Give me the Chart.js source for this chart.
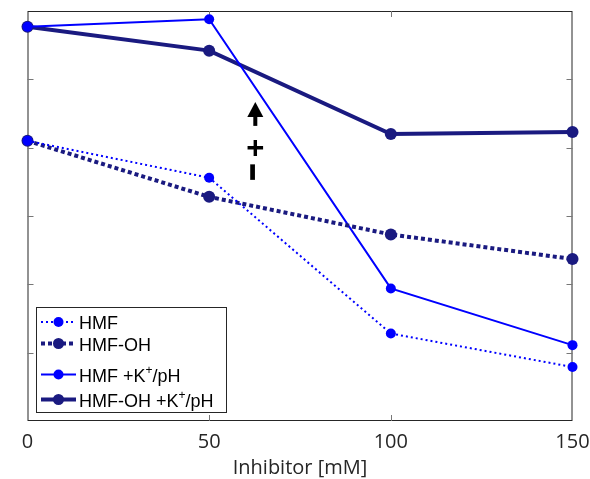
<!DOCTYPE html>
<html>
<head>
<meta charset="utf-8">
<script src="https://cdn.jsdelivr.net/npm/chart.js@4.4.1/dist/chart.umd.min.js"></script>
<style>
  html, body { margin: 0; padding: 0; background: #fff; overflow: hidden; }
  #wrap { width: 590px; height: 479px; }
  canvas { display: block; }
</style>
</head>
<body>
<div id="wrap"><canvas id="chart"></canvas></div>
<script>
// inhibitor concentrations (mM)
const inhibitor = [0, 50, 100, 150];
const xTicks = [0, 50, 100, 150];

// relative values (axis has no labels, 0..6 units)
const hmf = [4.10, 3.56, 1.28, 0.79];
const hmfOH = [4.10, 3.28, 2.73, 2.37];
const hmfK = [5.77, 5.88, 1.94, 1.11];
const hmfOHK = [5.77, 5.42, 4.20, 4.23];

const BLUE = '#0000ff';
const NAVY = '#1a1a80';
const AXIS = '#262626';

const toXY = (vals) => vals.map((v, i) => ({x: inhibitor[i], y: v}));

const legendRows = [
  {name: 'HMF', sup: null, color: BLUE, width: 2, dash: [2, 3], r: 5},
  {name: 'HMF-OH', sup: null, color: NAVY, width: 4, dash: [4, 3], r: 5.5},
  {name: 'HMF +K', sup: '+', tail: '/pH', color: BLUE, width: 2, dash: [], r: 5},
  {name: 'HMF-OH +K', sup: '+', tail: '/pH', color: NAVY, width: 4, dash: [], r: 5.5},
];

// frame with inward ticks, drawn under the lines
const framePlugin = {
  id: 'frame',
  beforeDatasetsDraw(chart) {
    const {ctx, chartArea: a, scales} = chart;
    ctx.save();
    ctx.strokeStyle = AXIS;
    ctx.lineWidth = 1;
    ctx.strokeRect(a.left + 0.5, a.top + 0.5, a.right - a.left - 1, a.bottom - a.top - 1);
    ctx.strokeStyle = '#777';
    ctx.beginPath();
    [50, 100].forEach((v) => {
      const x = Math.round(scales.x.getPixelForValue(v)) + 0.5;
      ctx.moveTo(x, a.bottom); ctx.lineTo(x, a.bottom - 6);
      ctx.moveTo(x, a.top); ctx.lineTo(x, a.top + 6);
    });
    [1, 2, 3, 4, 5].forEach((v) => {
      const y = Math.round(scales.y.getPixelForValue(v)) + 0.5;
      ctx.moveTo(a.left, y); ctx.lineTo(a.left + 6, y);
      ctx.moveTo(a.right, y); ctx.lineTo(a.right - 6, y);
    });
    ctx.stroke();
    ctx.restore();
  },
};

// legend box (with superscripts) and the arrow / +/- note
const notesPlugin = {
  id: 'notes',
  afterDatasetsDraw(chart) {
    const {ctx, scales} = chart;
    ctx.save();

    // legend
    const bx = 36.5, by = 307.5, bw = 190, bh = 105;
    ctx.fillStyle = '#fff';
    ctx.fillRect(bx, by, bw, bh);
    ctx.strokeStyle = AXIS;
    ctx.lineWidth = 1;
    ctx.strokeRect(bx, by, bw, bh);
    const baselines = [329, 350.5, 381.5, 406.5];
    legendRows.forEach((row, i) => {
      const base = baselines[i];
      const ly = base - 7;
      ctx.strokeStyle = row.color;
      ctx.lineWidth = row.width;
      ctx.setLineDash(row.dash);
      ctx.beginPath();
      ctx.moveTo(41, ly); ctx.lineTo(76, ly);
      ctx.stroke();
      ctx.setLineDash([]);
      ctx.fillStyle = row.color;
      ctx.beginPath();
      ctx.arc(58.5, ly, row.r, 0, Math.PI * 2);
      ctx.fill();

      ctx.fillStyle = '#000';
      ctx.textBaseline = 'alphabetic';
      ctx.font = '18px "Liberation Sans", Arial, sans-serif';
      let tx = 79;
      ctx.fillText(row.name, tx, base);
      if (row.sup) {
        tx += ctx.measureText(row.name).width;
        ctx.font = '12px "Liberation Sans", Arial, sans-serif';
        ctx.fillText(row.sup, tx, base - 8);
        tx += ctx.measureText(row.sup).width;
        ctx.font = '18px "Liberation Sans", Arial, sans-serif';
        ctx.fillText(row.tail, tx, base);
      }
    });

    // arrow with + and - underneath
    const ax = scales.x.getPixelForValue(62.7);
    const tip = scales.y.getPixelForValue(4.67);
    ctx.fillStyle = '#000';
    ctx.beginPath();
    ctx.moveTo(ax, tip);
    ctx.lineTo(ax + 8, tip + 15);
    ctx.lineTo(ax - 8, tip + 15);
    ctx.closePath();
    ctx.fill();
    ctx.fillRect(ax - 2, tip + 14, 4, 10);

    ctx.textAlign = 'center';
    ctx.textBaseline = 'middle';
    ctx.font = 'bold 31px "Liberation Sans", Arial, sans-serif';
    ctx.fillText('+', ax, scales.y.getPixelForValue(3.98));
    ctx.save();
    ctx.translate(ax, scales.y.getPixelForValue(3.64));
    ctx.rotate(-Math.PI / 2);
    ctx.scale(1, 1.4);
    ctx.fillText('\u2212', 0, 0);
    ctx.restore();

    ctx.restore();
  },
};

const line = (data, color, width, dash, r) => ({
  data: toXY(data),
  borderColor: color,
  backgroundColor: color,
  borderWidth: width,
  borderDash: dash,
  pointRadius: r,
  pointBorderWidth: 0,
  pointBackgroundColor: color,
  tension: 0,
  clip: false,
});

new Chart(document.getElementById('chart'), {
  type: 'line',
  data: {
    datasets: [
      line(hmf, BLUE, 2, [2, 3], 5),
      line(hmfOH, NAVY, 4, [4, 3], 6),
      line(hmfK, BLUE, 2, [], 5),
      line(hmfOHK, NAVY, 4, [], 6),
    ],
  },
  options: {
    responsive: true,
    maintainAspectRatio: false,
    animation: false,
    layout: {padding: {left: 27.5, right: 17.5, top: 11, bottom: 0}},
    plugins: {legend: {display: false}, tooltip: {enabled: false}},
    scales: {
      x: {
        type: 'linear',
        min: 0,
        max: 150,
        afterBuildTicks: (axis) => { axis.ticks = xTicks.map((v) => ({value: v})); },
        afterFit: (axis) => { axis.paddingLeft = 0; axis.paddingRight = 0; },
        grid: {display: false, drawTicks: false},
        border: {display: false},
        ticks: {
          padding: 9,
          color: AXIS,
          font: {family: '"Open Sans", "Noto Sans", sans-serif', size: 20, lineHeight: 1.2},
        },
        title: {
          display: true,
          text: 'Inhibitor [mM]',
          color: AXIS,
          padding: {top: -5, bottom: 1},
          font: {family: '"Open Sans", "Noto Sans", sans-serif', size: 20, lineHeight: 1},
        },
      },
      y: {
        display: false,
        min: 0,
        max: 6,
      },
    },
  },
  plugins: [framePlugin, notesPlugin],
});
</script>
</body>
</html>
